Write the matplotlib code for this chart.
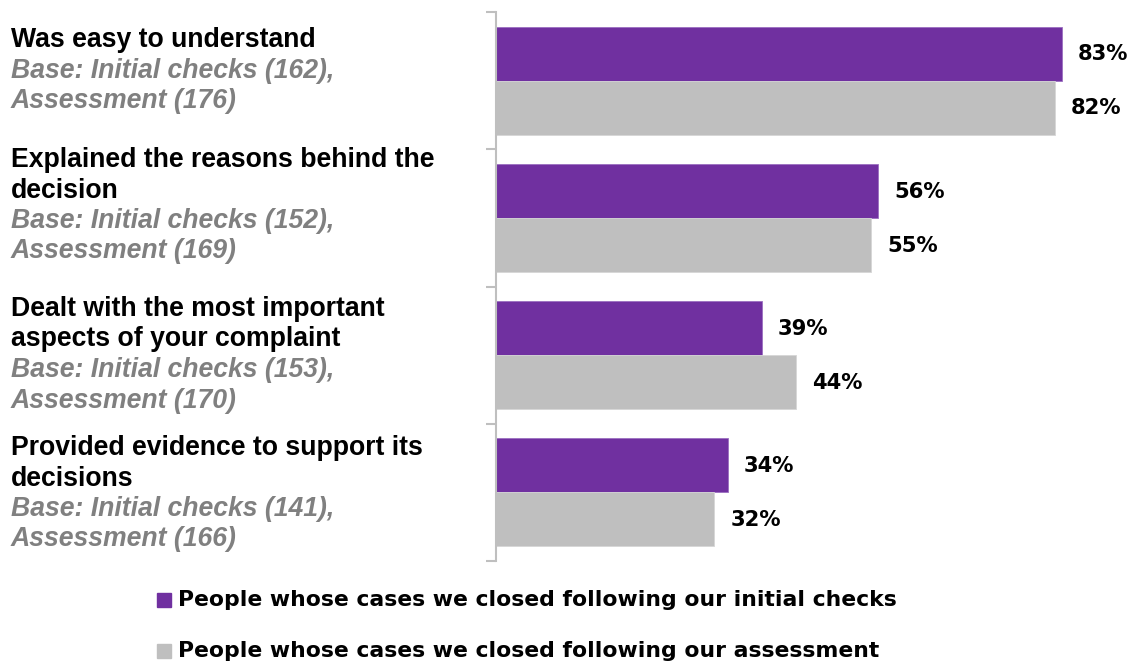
import matplotlib
matplotlib.use("Agg")
import matplotlib.pyplot as plt
from matplotlib.patches import Rectangle
import numpy as np

# Survey results: share of respondents agreeing with each statement
statements = [
    ["Was easy to understand"],
    ["Explained the reasons behind the", "decision"],
    ["Dealt with the most important", "aspects of your complaint"],
    ["Provided evidence to support its", "decisions"],
]
base_initial = [162, 152, 153, 141]
base_assessment = [176, 169, 170, 166]
initial_checks = [83, 56, 39, 34]
assessment = [82, 55, 44, 32]
series_names = [
    "People whose cases we closed following our initial checks",
    "People whose cases we closed following our assessment",
]

PURPLE = "#7030A0"
GREY = "#BFBFBF"
AXIS = "#BFBFBF"

W, H = 1137, 663
fig = plt.figure(figsize=(W / 100, H / 100), dpi=100)

# axes placed in pixel terms: left spine at x=496, spanning y=12..561
ax_left, ax_top, ax_bottom = 496, 12, 561
ax = fig.add_axes([ax_left / W, 1 - ax_bottom / H, 1 - ax_left / W, (ax_bottom - ax_top) / H])
px_per_pct = (1062 - ax_left) / 83.0
ax.set_xlim(0, (W - ax_left) / px_per_pct)
n = len(initial_checks)
ax.set_ylim(n - 0.5, -0.5)

y = np.arange(n)
bh = 0.393
ax.barh(y - bh / 2, initial_checks, height=bh, color=PURPLE, edgecolor="#9B6FC0", linewidth=0.6)
ax.barh(y + bh / 2, assessment, height=bh, color=GREY, edgecolor="#D6D6D6", linewidth=0.6)

label_font = dict(fontsize=15.2, fontweight="bold", family="DejaVu Sans", color="black", va="center", ha="left")
off = 16 / px_per_pct
for i in range(n):
    ax.text(initial_checks[i] + off, y[i] - bh / 2 + 0.005, f"{initial_checks[i]}%", **label_font)
    ax.text(assessment[i] + off, y[i] + bh / 2 + 0.005, f"{assessment[i]}%", **label_font)

for s in ["top", "right", "bottom"]:
    ax.spines[s].set_visible(False)
ax.spines["left"].set_color(AXIS)
ax.spines["left"].set_linewidth(1.5)
ax.set_xticks([])
ax.set_yticks(np.arange(-0.5, n, 1.0))
ax.set_yticklabels([])
ax.tick_params(axis="y", direction="out", length=7, width=1.5, color=AXIS)

# category labels on the left, drawn line by line
first_line_px = [40, 160, 309, 448]
pitch = 30.5
for i in range(n):
    yy = first_line_px[i]
    for line in statements[i]:
        fig.text(11 / W, 1 - yy / H, line, fontsize=19.2, fontweight="bold",
                 family="Liberation Sans", color="black", va="center", ha="left")
        yy += pitch
    for line in (f"Base: Initial checks ({base_initial[i]}),", f"Assessment ({base_assessment[i]})"):
        fig.text(11 / W, 1 - yy / H, line, fontsize=19.2, fontweight="bold", style="italic",
                 family="Liberation Sans", color="#808080", va="center", ha="left")
        yy += pitch

# legend
for name, col, ypx in zip(series_names, [PURPLE, GREY], [600, 651]):
    fig.patches.append(Rectangle((157 / W, 1 - (ypx + 7) / H), 14 / W, 14 / H,
                                 transform=fig.transFigure, color=col))
    fig.text(178 / W, 1 - ypx / H, name, fontsize=15.75, fontweight="bold",
             family="DejaVu Sans", color="black", va="center", ha="left")

fig.savefig("out.png", dpi=100)
